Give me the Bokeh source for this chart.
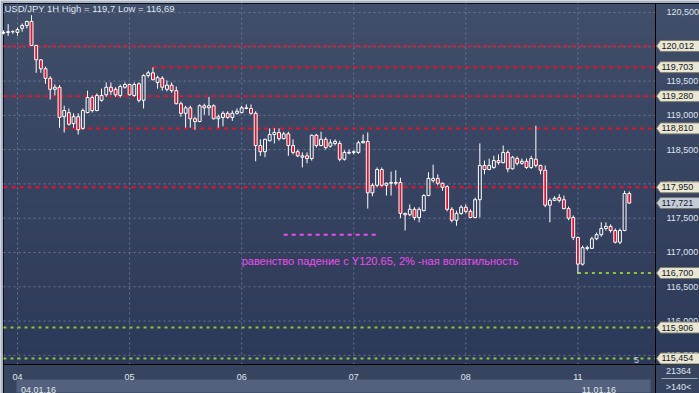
import numpy as np
from bokeh.plotting import figure
from bokeh.models import (FixedTicker, LinearAxis, Label, CustomJSTickFormatter,
                          Range1d, ColumnDataSource)
from bokeh.core.properties import value
from bokeh.embed import file_html
from bokeh.resources import INLINE

# ---------------- data ----------------
title_text = "USD/JPY 1H High = 119,7 Low = 116,69"
bar_index = list(range(-3, 132))

open_ = [120.21, 120.21, 120.22, 120.21, 120.27, 120.31, 120.37, 120.02, 119.81, 119.68,
         119.54, 119.38, 119.41, 118.98, 119.04, 118.88, 118.98, 118.81, 119.04, 119.26,
         119.07, 119.22, 119.30, 119.41, 119.38, 119.29, 119.41, 119.45, 119.29, 119.46,
         119.22, 119.58, 119.62, 119.48, 119.54, 119.38, 119.44, 119.36, 119.17, 119.03,
         119.11, 118.95, 118.91, 119.14, 119.11, 119.14, 118.95, 118.97, 119.03, 118.97,
         119.03, 119.04, 119.10, 119.10, 119.03, 118.56, 118.47, 118.63, 118.72, 118.75,
         118.66, 118.73, 118.56, 118.47, 118.39, 118.41, 118.37, 118.71, 118.56, 118.65,
         118.55, 118.59, 118.59, 118.36, 118.46, 118.46, 118.46, 118.60, 118.62, 117.87,
         117.98, 118.21, 117.98, 118.01, 118.02, 118.02, 117.57, 117.55, 117.63, 117.51,
         117.61, 117.83, 118.05, 118.08, 118.01, 117.96, 117.63, 117.47, 117.57, 117.66,
         117.60, 117.51, 117.77, 118.27, 118.21, 118.24, 118.34, 118.31, 118.46, 118.22,
         118.37, 118.30, 118.33, 118.24, 118.36, 118.27, 118.20, 117.69, 117.76, 117.80,
         117.77, 117.64, 117.51, 117.22, 116.83, 117.06, 117.06, 117.20, 117.26, 117.35,
         117.38, 117.32, 117.15, 117.32, 117.86]
high = [120.24, 120.33, 120.24, 120.28, 120.34, 120.38, 120.46, 120.02, 119.82, 119.71,
        119.57, 119.45, 119.44, 119.14, 119.10, 119.03, 119.03, 119.10, 119.36, 119.29,
        119.32, 119.39, 119.48, 119.48, 119.41, 119.45, 119.48, 119.46, 119.48, 119.48,
        119.60, 119.65, 119.70, 119.58, 119.57, 119.51, 119.48, 119.42, 119.20, 119.14,
        119.14, 118.98, 119.16, 119.17, 119.27, 119.16, 119.01, 119.06, 119.06, 119.07,
        119.10, 119.14, 119.16, 119.16, 119.06, 118.65, 118.66, 118.81, 118.81, 118.81,
        118.76, 118.76, 118.65, 118.50, 118.46, 118.46, 118.72, 118.73, 118.76, 118.68,
        118.65, 118.65, 118.63, 118.49, 118.50, 118.49, 118.63, 118.72, 118.75, 118.01,
        118.24, 118.24, 118.02, 118.18, 118.20, 118.09, 117.58, 117.70, 117.66, 117.66,
        117.85, 118.17, 118.28, 118.14, 118.02, 117.98, 117.66, 117.61, 117.69, 117.70,
        117.63, 117.80, 118.59, 118.34, 118.37, 118.41, 118.43, 118.56, 118.49, 118.41,
        118.40, 118.37, 118.37, 118.41, 118.85, 118.28, 118.27, 117.79, 117.82, 117.85,
        117.83, 117.67, 117.54, 117.23, 117.10, 117.10, 117.23, 117.29, 117.44, 117.44,
        117.41, 117.35, 117.35, 117.90, 117.89]
low = [120.18, 120.16, 120.19, 120.16, 120.22, 120.27, 120.01, 119.62, 119.62, 119.46,
       119.23, 119.29, 118.82, 118.75, 118.85, 118.82, 118.72, 118.79, 119.03, 119.04,
       119.06, 119.20, 119.27, 119.30, 119.27, 119.26, 119.39, 119.29, 119.27, 119.19,
       119.10, 119.55, 119.51, 119.39, 119.36, 119.35, 119.33, 119.16, 118.98, 118.82,
       118.82, 118.79, 118.90, 119.01, 119.00, 118.94, 118.82, 118.84, 118.95, 118.92,
       119.01, 119.03, 119.09, 119.01, 118.33, 118.41, 118.39, 118.62, 118.59, 118.63,
       118.65, 118.41, 118.43, 118.39, 118.24, 118.30, 118.34, 118.53, 118.55, 118.50,
       118.53, 118.56, 118.33, 118.34, 118.43, 118.43, 118.44, 118.59, 117.64, 117.82,
       117.95, 117.96, 117.83, 117.83, 117.98, 117.50, 117.32, 117.53, 117.47, 117.44,
       117.60, 117.82, 118.02, 117.98, 117.90, 117.60, 117.44, 117.39, 117.55, 117.57,
       117.50, 117.50, 117.51, 118.14, 118.20, 118.22, 118.28, 118.30, 118.17, 118.21,
       118.27, 118.28, 118.22, 118.22, 118.24, 118.14, 117.66, 117.44, 117.75, 117.73,
       117.63, 117.47, 117.18, 116.69, 116.81, 117.03, 117.05, 117.18, 117.23, 117.32,
       117.29, 117.13, 117.12, 117.31, 117.71]
close = [120.20, 120.22, 120.22, 120.25, 120.31, 120.37, 120.02, 119.81, 119.68, 119.54,
         119.38, 119.41, 118.97, 119.07, 118.87, 118.98, 118.79, 119.07, 119.26, 119.07,
         119.29, 119.29, 119.41, 119.35, 119.30, 119.42, 119.45, 119.30, 119.45, 119.22,
         119.58, 119.62, 119.52, 119.55, 119.41, 119.44, 119.36, 119.17, 119.03, 119.11,
         118.95, 118.91, 119.14, 119.11, 119.14, 118.95, 118.98, 119.03, 118.97, 119.03,
         119.06, 119.11, 119.11, 119.03, 118.56, 118.47, 118.65, 118.72, 118.75, 118.66,
         118.73, 118.56, 118.46, 118.41, 118.41, 118.37, 118.71, 118.56, 118.65, 118.53,
         118.60, 118.62, 118.36, 118.46, 118.45, 118.47, 118.60, 118.62, 117.87, 117.98,
         118.21, 117.98, 118.01, 118.02, 118.01, 117.57, 117.55, 117.63, 117.51, 117.63,
         117.83, 118.08, 118.08, 118.01, 117.95, 117.63, 117.47, 117.57, 117.66, 117.60,
         117.51, 117.77, 118.27, 118.21, 118.27, 118.34, 118.31, 118.46, 118.22, 118.39,
         118.30, 118.33, 118.24, 118.37, 118.27, 118.20, 117.69, 117.76, 117.79, 117.76,
         117.64, 117.50, 117.22, 116.83, 117.07, 117.07, 117.20, 117.26, 117.35, 117.38,
         117.32, 117.15, 117.32, 117.86, 117.721]

day_ticks = [0, 24, 48, 72, 96, 120]
day_labels = ["04", "05", "06", "07", "08", "11"]
date_ticks = [0, 120]
date_labels = ["04.01.16", "11.01.16"]
price_ticks = [115.5, 116.0, 116.5, 117.0, 117.5, 118.0, 118.5, 119.0, 119.5, 120.0, 120.5]

red_levels = [120.012, 119.703, 119.280, 118.810, 117.950]
red_starts = [None, 29, None, 10, None]
green_levels = [116.700, 115.906, 115.454]
green_starts = [120, None, None]
last_price = 117.721

note_text = "равенство падение с Y120.65, 2% -ная волатильность"
note_level = 117.26
note_start, note_end = 57, 77
note_pos = (48, 116.87)
level_mark = "5"
counter_top = "21364"
counter_bottom = ">140<"

# ---------------- layout (pixel geometry of the canvas) ----------------
W, H = 699, 393
BAR_PX = 4.67          # pixels per hourly bar
X0_PX = 17.0           # pixel of bar 0
P_PER_PX = 0.014584    # price units per pixel
P_TOP = 120.675        # price at pixel row 0


def jx(px):
    return (px - X0_PX) / BAR_PX


def py(px):
    return P_TOP - P_PER_PX * px


XL, XR = jx(0), jx(W)
YB, YT = py(H), py(0)
CH_L, CH_R = jx(3), jx(655)     # chart area edges
CH_T, CH_B = py(3), py(364)
ROW2 = py(379)

FONT = "Liberation Sans"
TXT = "#dfe5ef"
RED = "#e8102e"
GREEN = "#8cc63c"
MAGENTA = "#ee4cee"
EDGE = "#a9b3c4"
ROW1_C = "#37445f"
ROW2_C = "#53617c"
BG_TOP = (65, 79, 106)
BG_BOT = (45, 57, 88)

p = figure(width=W, height=H, x_range=Range1d(XL, XR), y_range=Range1d(YB, YT),
           x_axis_location=None, y_axis_location=None,
           output_backend="svg", toolbar_location=None,
           min_border=0, min_border_left=0, min_border_right=0,
           min_border_top=0, min_border_bottom=0)
p.background_fill_color = EDGE
p.border_fill_color = EDGE
p.outline_line_color = None
p.xgrid.visible = False
p.ygrid.visible = False

# gradient background of chart + price column
n = 361
img = np.empty((n, 1), dtype=np.uint32)
v = img.view(dtype=np.uint8).reshape((n, 1, 4))
t = np.linspace(0, 1, n)
for k in range(3):
    v[:, 0, k] = (BG_BOT[k] + (BG_TOP[k] - BG_BOT[k]) * t).astype(np.uint8)
v[:, 0, 3] = 255
p.image_rgba(image=[img], x=CH_L, y=CH_B, dw=XR + 1 - CH_L, dh=CH_T - CH_B, level="image")

# bottom strips
p.quad(left=[CH_L], right=[XR + 1], top=[CH_B], bottom=[YB - 1],
       fill_color=ROW1_C, line_color=None, level="image")
p.quad(left=[jx(16)], right=[jx(650)], top=[ROW2], bottom=[py(392)],
       fill_color=ROW2_C, line_color=None, level="image")
p.segment(x0=[jx(661)], y0=[py(378)], x1=[jx(697)], y1=[py(378)],
          line_color="#9aa4b6", line_width=1, level="image")
# dark frame edge
p.quad(left=[CH_L], right=[XR + 2], top=[CH_T], bottom=[YB - 2],
       fill_color=None, line_color="#0b0e16", line_width=1, level="image")

# grid
p.segment(x0=day_ticks, y0=[CH_B] * len(day_ticks), x1=day_ticks, y1=[CH_T] * len(day_ticks),
          line_color="#7282a2", line_dash="2 3", line_alpha=0.8, level="underlay")
p.segment(x0=[CH_L] * len(price_ticks), y0=price_ticks, x1=[CH_R] * len(price_ticks),
          y1=price_ticks, line_color="#7282a2", line_dash="2 3", line_alpha=0.8,
          level="underlay")

# axes
ya = LinearAxis(fixed_location=CH_R, bounds=(YB, CH_T), ticker=FixedTicker(ticks=price_ticks),
                formatter=CustomJSTickFormatter(code="return tick.toFixed(3).replace('.', ',');"))
ya.axis_line_color = "black"
ya.major_tick_line_color = None
ya.minor_tick_line_color = None
ya.major_label_standoff = 5
ya.major_label_text_color = TXT
ya.major_label_text_font = FONT
ya.major_label_text_font_size = "9px"
p.add_layout(ya, "right")

xa = LinearAxis(fixed_location=CH_B, bounds=(CH_L, XR), ticker=FixedTicker(ticks=day_ticks),
                major_label_overrides=dict(zip(day_ticks, day_labels)))
xa.axis_line_color = "black"
xa.major_tick_line_color = None
xa.minor_tick_line_color = None
xa.major_label_standoff = 3
xa.major_label_text_color = TXT
xa.major_label_text_font = FONT
xa.major_label_text_font_size = "9px"
p.add_layout(xa, "below")

shift = 4.5   # date label drawn right of its day line
xb_ticks = [d + shift for d in date_ticks]
xb = LinearAxis(fixed_location=ROW2, bounds=(CH_L, XR), ticker=FixedTicker(ticks=xb_ticks),
                major_label_overrides=dict(zip(xb_ticks, date_labels)))
xb.axis_line_color = None
xb.major_tick_line_color = None
xb.minor_tick_line_color = None
xb.major_label_standoff = 1
xb.major_label_text_color = TXT
xb.major_label_text_font = FONT
xb.major_label_text_font_size = "9px"
p.add_layout(xb, "below")

# horizontal levels
p.segment(x0=[s if s is not None else CH_L for s in red_starts], y0=red_levels,
          x1=[CH_R] * len(red_levels), y1=red_levels,
          line_color=RED, line_width=2, line_dash="4 4")
p.segment(x0=[s if s is not None else CH_L for s in green_starts], y0=green_levels,
          x1=[CH_R] * len(green_levels), y1=green_levels,
          line_color=GREEN, line_width=2, line_dash="3 4")
p.segment(x0=[note_start], y0=[note_level], x1=[note_end], y1=[note_level],
          line_color=MAGENTA, line_width=2, line_dash="4 4")

# candles
o = np.array(open_); c = np.array(close)
top = np.maximum(o, c); bot = np.minimum(o, c)
down = c < o
src = ColumnDataSource(dict(
    x=bar_index, high=high, low=low, top=top, bot=bot,
    fill=[RED if d else "#000000" for d in down],
    alpha=[1.0 if d else 0.0 for d in down]))
p.segment(x0="x", y0="high", x1="x", y1="top", source=src, line_color="white", line_width=1)
p.segment(x0="x", y0="bot", x1="x", y1="low", source=src, line_color="white", line_width=1)
p.vbar(x="x", top="top", bottom="bot", width=0.62, source=src,
       fill_color="fill", fill_alpha="alpha", line_color="white", line_width=1)

# price tags on the price column
tag_levels = red_levels + green_levels + [last_price]
tag_fill = ["#e9e6d2"] * (len(red_levels) + len(green_levels)) + ["#c4ccd8"]
hh = 5.5 * P_PER_PX
tip, bl, br = jx(656), jx(660), jx(699)
p.patches(xs=[[tip, bl, br, br, bl] for _ in tag_levels],
          ys=[[lv, lv + hh, lv + hh, lv - hh, lv - hh] for lv in tag_levels],
          fill_color=tag_fill, line_color="#7a7a70", line_width=1, level="overlay")
p.text(x=[jx(661)] * len(tag_levels), y=tag_levels,
       text=[f"{lv:.3f}".replace(".", ",") for lv in tag_levels],
       text_color="#141a28", text_font=value(FONT), text_font_size="9px",
       text_baseline="middle", text_align="left", level="overlay")

# texts
p.add_layout(Label(x=CH_L + 0.2, y=py(8), text=title_text, text_color=TXT,
                   text_font=FONT, text_font_size="9.5px", text_baseline="middle"))
p.add_layout(Label(x=note_pos[0], y=note_pos[1], text=note_text, text_color=MAGENTA,
                   text_font=FONT, text_font_size="11px", text_baseline="middle"))
p.add_layout(Label(x=jx(636), y=py(359), text=level_mark, text_color="#c8d0dc",
                   text_font=FONT, text_font_size="9px", text_baseline="middle",
                   text_align="center"))
p.add_layout(Label(x=jx(678), y=py(370), text=counter_top, text_color=TXT,
                   text_font=FONT, text_font_size="9px", text_baseline="middle",
                   text_align="center"))
p.add_layout(Label(x=jx(678), y=py(386), text=counter_bottom, text_color=TXT,
                   text_font=FONT, text_font_size="9px", text_baseline="middle",
                   text_align="center"))

open("out.html", "w").write(file_html(p, INLINE))
